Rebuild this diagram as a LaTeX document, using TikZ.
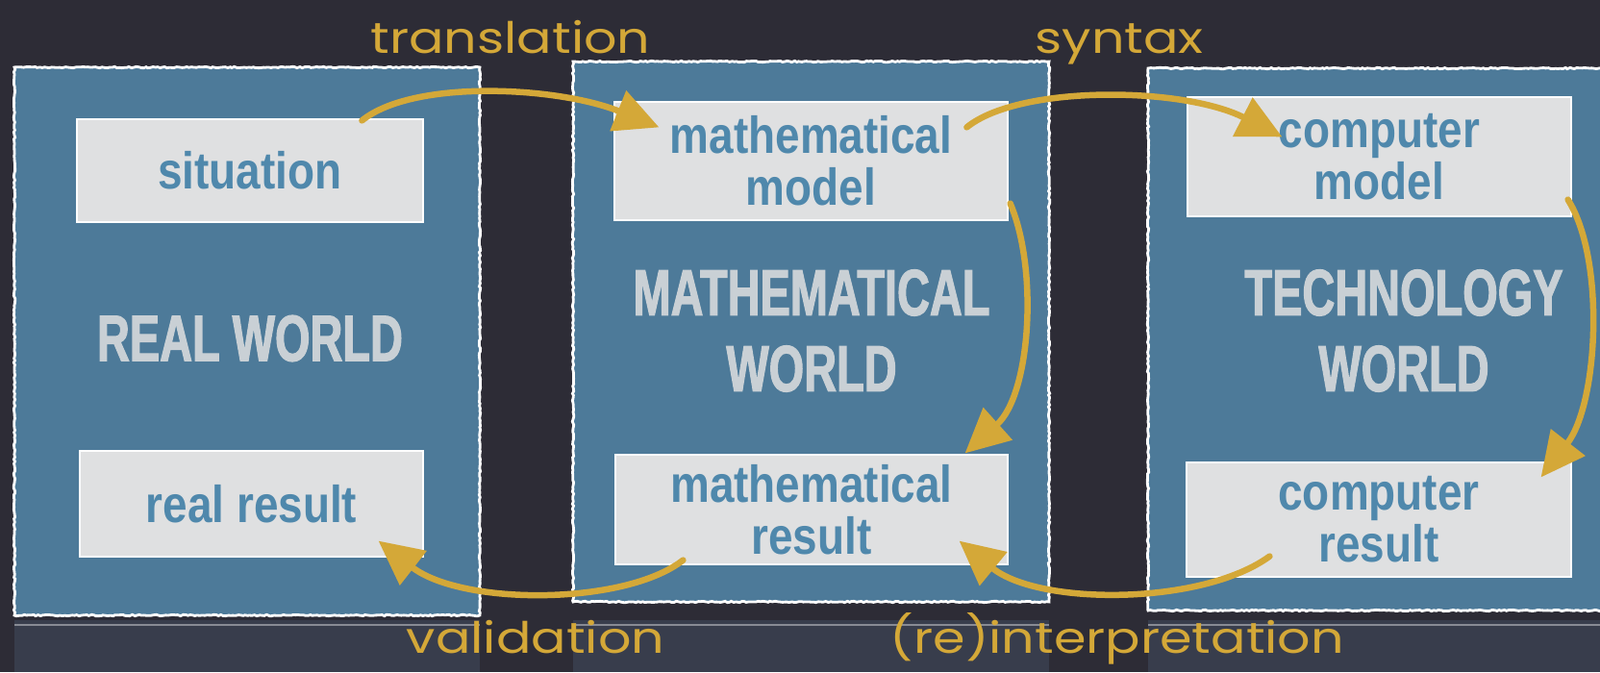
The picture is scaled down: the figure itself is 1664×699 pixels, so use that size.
\documentclass[tikz,border=0pt]{standalone}
\usepackage{fontspec}
\newfontfamily\boxfont{Liberation Sans}[FakeStretch=0.85]
\newfontfamily\titlefont{Liberation Sans}[FakeStretch=0.69,FakeBold=1.6]
\newfontfamily\handfont{Poppins}[FakeStretch=1.2]
\usetikzlibrary{arrows.meta,calc,decorations.pathmorphing}
\definecolor{bg}{HTML}{2D2C36}
\definecolor{panelblue}{HTML}{4D7A99}
\definecolor{boxgray}{HTML}{DFE0E1}
\definecolor{boxtext}{HTML}{4F88AC}
\definecolor{titletext}{HTML}{C9D0D5}
\definecolor{ylw}{HTML}{D4A838}
\definecolor{refl}{HTML}{383D4C}
\tikzset{
  panel/.style={fill=panelblue, draw=white, line width=2.8pt,
    decorate, decoration={random steps, segment length=2.5pt, amplitude=0.7pt}},
  labelbox/.style={fill=boxgray, draw=white, line width=1.2pt, align=center,
    text=boxtext, font=\boxfont\bfseries\fontsize{54}{54}\selectfont},
  worldtitle/.style={text=titletext, align=center,
    font=\titlefont\bfseries\fontsize{68}{79}\selectfont},
  hand/.style={text=ylw, anchor=base, font=\handfont\fontsize{45}{45}\selectfont},
  flow/.style={draw=ylw, line width=6.5pt, line cap=round,
    -{Triangle[length=46pt,width=44pt]}},
}
\begin{document}
\begin{tikzpicture}[x=1pt,y=-1pt]
\fill[bg] (0,0) rectangle (1664,699);
\useasboundingbox (0,0) rectangle (1664,699);
% reflections
\fill[refl] (15,645) rectangle (499,699);
\fill[refl] (596,645) rectangle (1091,699);
\fill[refl] (1194,645) rectangle (1664,699);
\draw[white!40!refl, line width=1.5pt] (15,650) -- (499,650);
\draw[white!40!refl, line width=1.5pt] (596,650) -- (1091,650);
\draw[white!40!refl, line width=1.5pt] (1194,650) -- (1664,650);
% panels
\node[panel, minimum width=484pt, minimum height=570pt] (p1) at (257,355) {};
\node[panel, minimum width=495pt, minimum height=562pt] (p2) at (843.5,345) {};
\node[panel, minimum width=486pt, minimum height=564pt] (p3) at (1437,353) {};
% titles
\node[worldtitle] (t1) at (260,352) {REAL WORLD};
\node[worldtitle] (t2) at (844,344) {MATHEMATICAL\\WORLD};
\node[worldtitle] (t3) at (1460,344) {TECHNOLOGY\\WORLD};
% label boxes
\node[labelbox, minimum width=360pt, minimum height=107pt] (sit) at (260,177.5) {situation};
\node[labelbox, minimum width=357pt, minimum height=110pt] (rr) at (261.5,524) {real result};
\node[labelbox, minimum width=409pt, minimum height=123pt] (mm) at (843.5,167.5) {mathematical\\model};
\node[labelbox, minimum width=408pt, minimum height=114pt] (mr) at (844,530) {mathematical\\result};
\node[labelbox, minimum width=399pt, minimum height=124pt] (cm) at (1434.5,163) {computer\\model};
\node[labelbox, minimum width=400pt, minimum height=119pt] (cr) at (1434,540.5) {computer\\result};
% arrows
\draw[flow] ($(sit.north west)+(297,2)$) .. controls (430,82) and (580,90) .. ($(mm.north west)+(47,27)$);
\draw[flow] ($(mm.north west)+(367,27)$) .. controls (1060,88) and (1230,90) .. ($(cm.north west)+(99,42)$);
\draw[flow] ($(mm.south east)+(2,-18)$) .. controls (1080,280) and (1072,410) .. ($(mr.north east)+(-45,-1)$);
\draw[flow] ($(cm.south east)+(-4,-18)$) .. controls (1670,270) and (1662,420) .. ($(cr.north east)+(-32,16)$);
\draw[flow] ($(cr.south west)+(87,-22)$) .. controls (1250,630) and (1080,630) .. ($(mr.south east)+(-51,-25)$);
\draw[flow] ($(mr.south west)+(71,-5)$) .. controls (650,630) and (480,630) .. ($(rr.south east)+(-47,-17)$);
% labels
\node[hand] (l1) at (531,55) {translation};
\node[hand] (l2) at (1164,55) {syntax};
\node[hand] (l3) at (557,679) {validation};
\node[hand] (l4) at (1162,679) {(re)interpretation};
\end{tikzpicture}
\end{document}
